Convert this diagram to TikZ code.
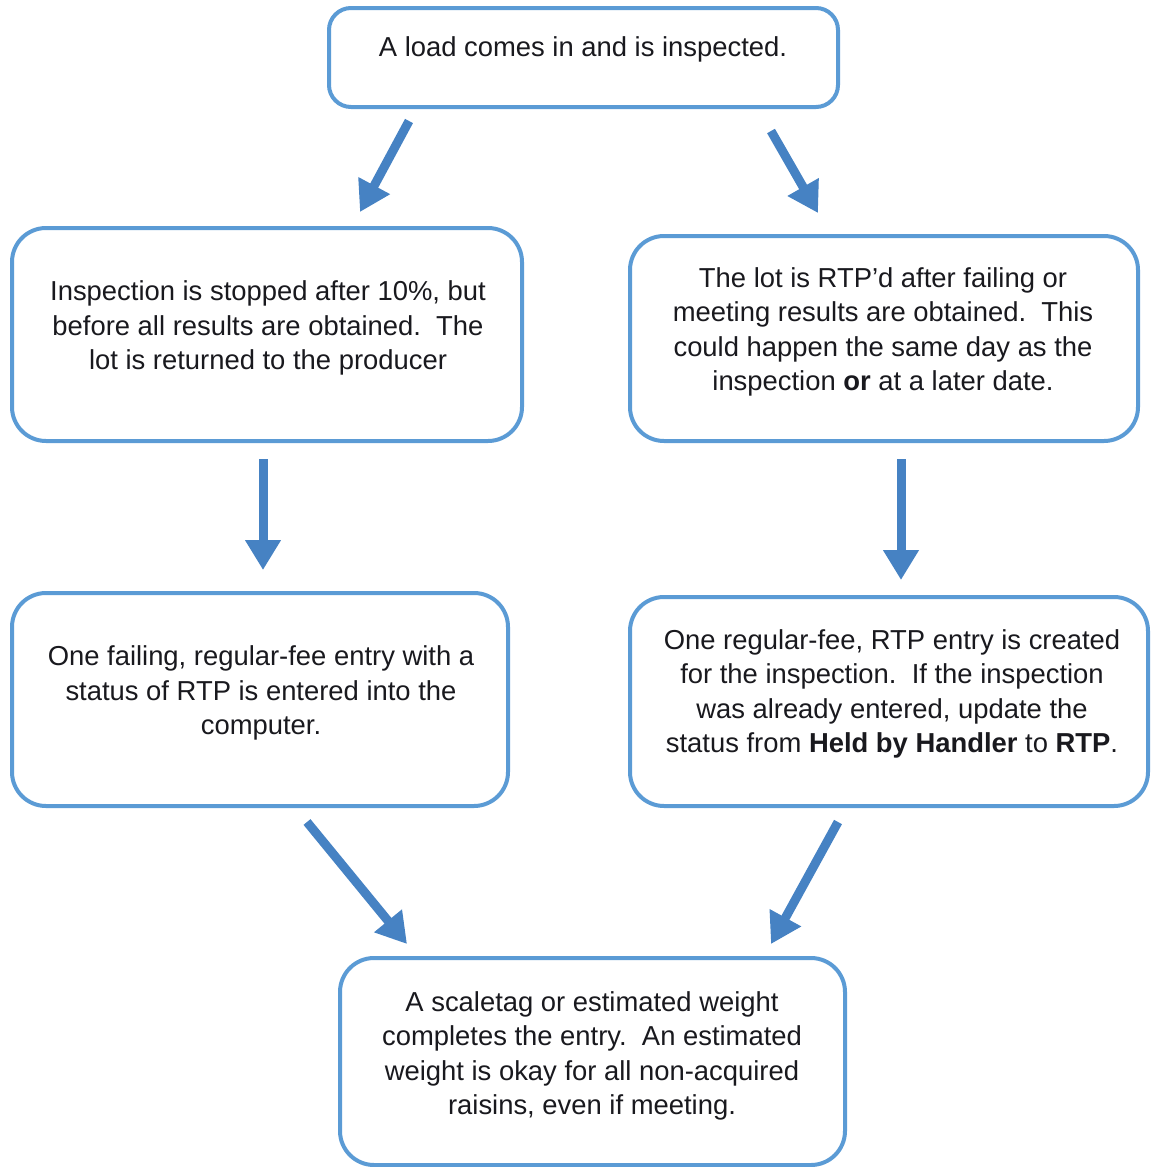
\documentclass[tikz,border=0pt]{standalone}
\usepackage{fontspec}
\setmainfont{Liberation Sans}
\usetikzlibrary{arrows.meta}
\definecolor{boxblue}{RGB}{91,155,213}
\definecolor{arrblue}{RGB}{70,130,195}
\definecolor{txt}{RGB}{25,25,30}
\begin{document}
\begin{tikzpicture}[x=0.5pt,y=-0.5pt,
  box/.style={draw=boxblue, line width=2pt, rounded corners=17pt, fill=white},
  txtnode/.style={align=center, text=txt, font=\fontsize{13.7pt}{17.25pt}\selectfont, inner sep=0pt},
  arr/.style={draw=arrblue, line width=4.5pt, -{Triangle[width=17pt,length=15pt]}}]
\useasboundingbox (0,0) rectangle (1151,1167);
% boxes
\node[box, rounded corners=11pt, minimum width=254.5pt, minimum height=49.5pt] (top) at (583.5,57.5) {};
\node[box, minimum width=255pt, minimum height=106.5pt] (l1) at (267,334.5) {};
\node[box, minimum width=254pt, minimum height=102.5pt] (r1) at (884,338.5) {};
\node[box, minimum width=248pt, minimum height=106.5pt] (l2) at (260,699.5) {};
\node[box, minimum width=259pt, minimum height=104.5pt] (r2) at (889,701.5) {};
\node[box, minimum width=252.5pt, minimum height=103.5pt] (bot) at (592.5,1061.5) {};
% texts
\node[txtnode] (ttop) at (583,49) {A load comes in and is inspected.};
\node[txtnode] (tl1) at (268,328) {Inspection is stopped after 10\%, but\\before all results are obtained.\ \ The\\lot is returned to the producer};
\node[txtnode] (tr1) at (883,332) {The lot is RTP’d after failing or\\meeting results are obtained.\ \ This\\could happen the same day as the\\inspection \textbf{or} at a later date.};
\node[txtnode] (tl2) at (261,693) {One failing, regular-fee entry with a\\status of RTP is entered into the\\computer.};
\node[txtnode] (tr2) at (892,694) {One regular-fee, RTP entry is created\\for the inspection.\ \ If the inspection\\was already entered, update the\\status from \textbf{Held by Handler} to \textbf{RTP}.};
\node[txtnode] (tbot) at (592,1056) {A scaletag or estimated weight\\completes the entry.\ \ An estimated\\weight is okay for all non-acquired\\raisins, even if meeting.};
% arrow endpoints
\coordinate (a1s) at (409,121);
\coordinate (a1e) at (360,212);
\coordinate (a2s) at (771,131);
\coordinate (a2e) at (818,213);
\coordinate (a3s) at (263,459);
\coordinate (a3e) at (263,570);
\coordinate (a4s) at (901,459);
\coordinate (a4e) at (901,580);
\coordinate (a5s) at (307,822);
\coordinate (a5e) at (407,944);
\coordinate (a6s) at (838,822);
\coordinate (a6e) at (771,944);
\draw[arr] (a1s) -- (a1e);
\draw[arr] (a2s) -- (a2e);
\draw[arr] (a3s) -- (a3e);
\draw[arr] (a4s) -- (a4e);
\draw[arr] (a5s) -- (a5e);
\draw[arr] (a6s) -- (a6e);
\end{tikzpicture}
\end{document}
